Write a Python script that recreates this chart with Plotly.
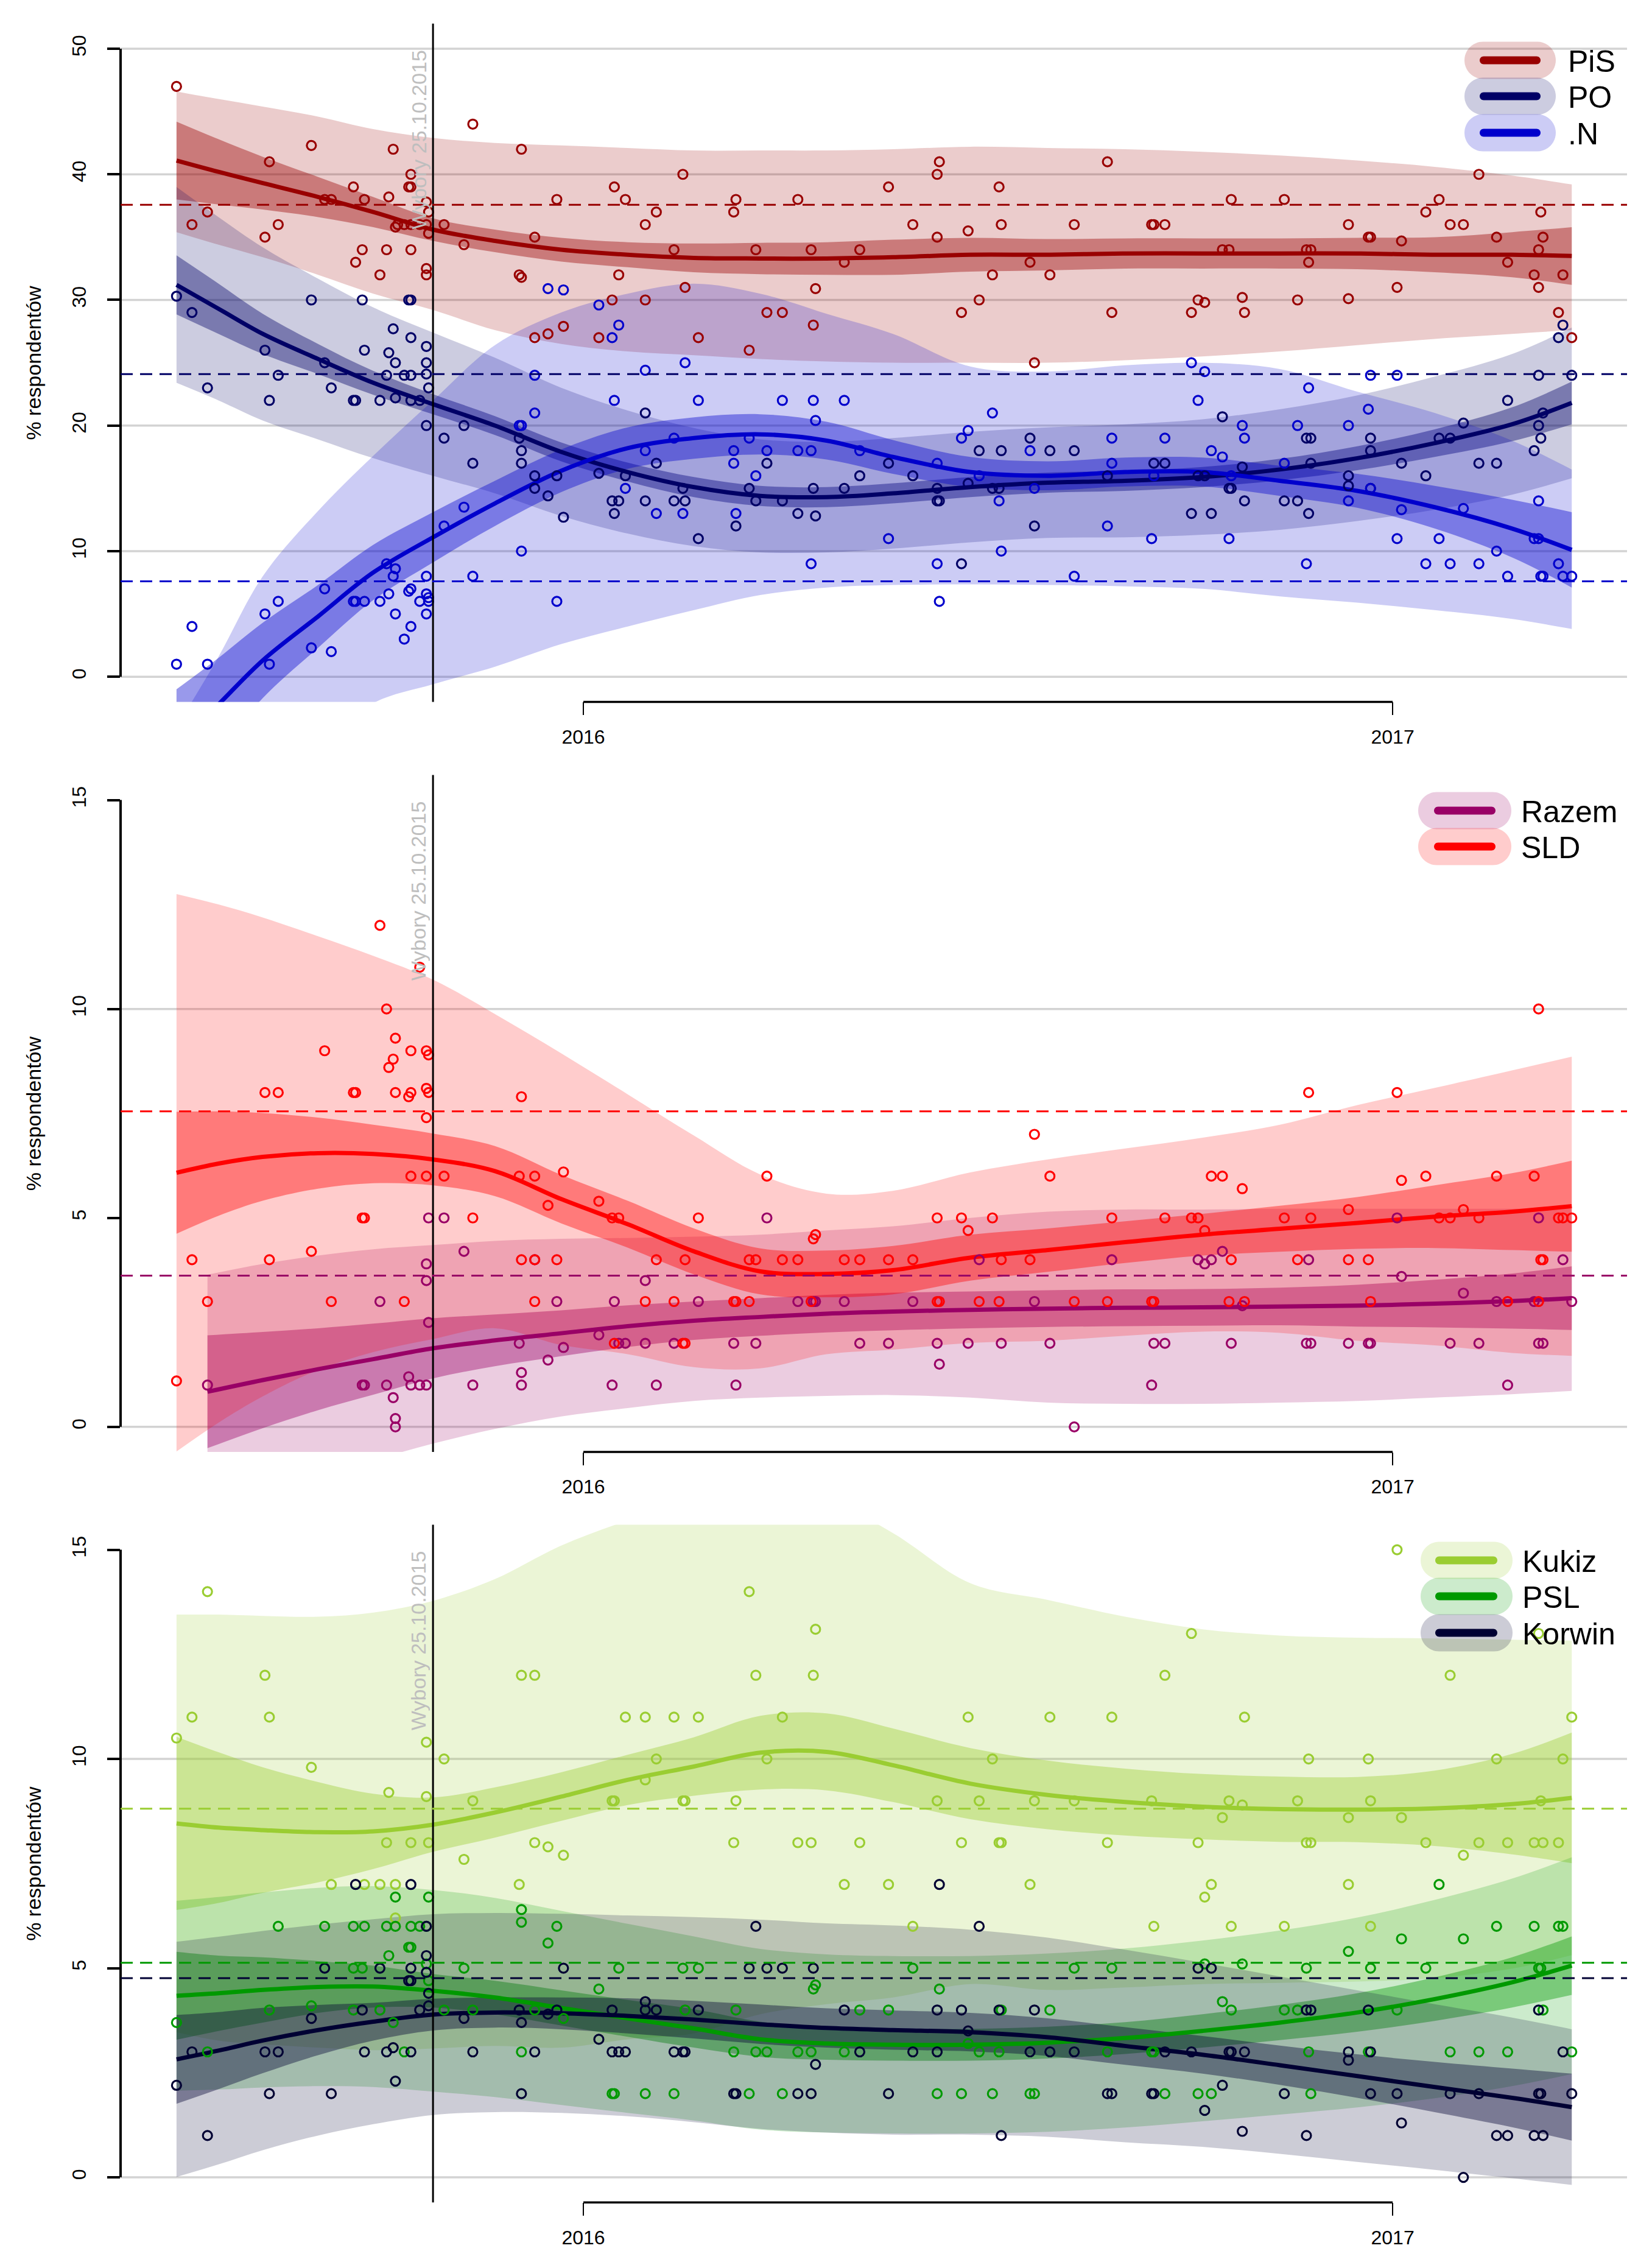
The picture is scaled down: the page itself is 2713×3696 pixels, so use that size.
import pandas as pd
import plotly.graph_objects as go

W, H = 2713, 3696
BASE = pd.Timestamp("2016-01-01")
FONT = "Liberation Sans, Arial, Helvetica, sans-serif"

# ---------------- poll points: (days since 2016-01-01, percent) ----------------
PIS = [(-184,47),(-177,36),(-170,37),(-144,35),(-142,41),(-138,36),(-123,42.3),(-117,38),(-114,38),(-104,39),
       (-103,33),(-100,34),(-99,38),(-92,32),(-89,34),(-88,38.2),(-86,42),(-85,35.8),(-84,36),(-81,36),
       (-79,39),(-78,39),(-78,40),(-78,34),(-78,36),(-74,36),(-71,37.8),(-70,37),(-71,36),(-70,35.3),
       (-71,32.5),(-71,32),(-63,36),(-54,34.4),(-50,44),(-29,32),(-28,31.8),(-28,42),(-22,35),(-22,27),
       (-16,27.3),(-12,38),(-9,27.9),(7,27),(13,30),(14,39),(16,32),(19,38),(28,36),(28,30),(33,37),
       (41,34),(45,40),(46,31),(52,27),(68,37),(69,38),(75,26),(78,34),(83,29),(90,29),(97,38),(103,34),
       (104,28),(105,30.9),(118,33),(125,34),
       (138,39),(149,36),(160,40),(161,41),(160,35),(174,35.5),(171,29),(179,30),(185,32),(188,39),(189,36),
       (202,33),(204,25),(211,32),(222,36),(237,41),(239,29),(257,36),(258,36),(263,36),(275,29),(278,30),
       (281,29.8),(289,34),(292,34),(293,38),(298,30.2),(299,29),(317,38),(323,30),(327,34),(329,34),(328,33),
       (346,36),(346,30.1),(355,35),(356,35),(368,31),(370,34.7),(381,37),(387,38),(392,36),(398,36),(405,40),
       (413,35),(418,33),(430,32),(432,34),(433,37),(434,35),(432,31),(441,29),(443,32),(447,27)]
PO = [(-184,30.3),(-177,29),(-170,23),(-144,26),(-142,22),(-138,24),(-123,30),(-117,25),(-114,23),(-104,22),
      (-103,22),(-100,30),(-99,26),(-92,22),(-89,24),(-88,25.8),(-86,27.7),(-85,25),(-85,22.2),(-81,24),
      (-79,30),(-78,30),(-78,27),(-78,24),(-78,22),(-74,22),(-71,26.3),(-71,25),(-71,24.1),(-70,23),(-71,20),
      (-63,19),(-54,20),(-50,17),(-29,19),(-28,18),(-28,17),(-22,16),(-22,15),(-16,14.4),(-12,16),(-9,12.7),
      (7,16.2),(13,14),(16,14),(14,13),(19,16),(28,21),(28,14),(33,17),(41,14),(45,15),(46,14),(52,11),
      (69,12),(75,15),(78,14),(83,17),(90,14),(97,13),(104,15),(105,12.8),(118,15),(125,16),
      (138,17),(149,16),(160,15),(160,14),(161,14),(171,9),(174,15.4),(179,18),(185,15),(188,15),(189,18),
      (202,19),(204,12),(211,18),(222,18),(237,16),(258,17),(263,17),(275,13),(278,16),(281,16),(284,13),
      (289,20.7),(292,15),(293,15),(299,14),(298,16.7),(317,14),(323,14),(327,19),(329,19),(328,13),(329,17),
      (346,16),(346,15.2),(356,19),(356,18),(356,15),(370,17),(381,16),(387,19),(392,19),(398,20.2),(405,17),
      (413,17),(418,22),(430,18),(432,20),(433,19),(434,21),(432,24),(443,28),(441,27),(447,24)]
NOWO = [(-184,1),(-177,4),(-170,1),(-144,5),(-142,1),(-138,6),(-123,2.3),(-117,7),(-114,2),(-104,6),(-103,6),
        (-99,6),(-92,6),(-89,9),(-88,6.6),(-86,8),(-85,8.6),(-85,5),(-81,3),(-79,6.8),(-78,7),(-78,4),(-74,6),
        (-71,8),(-71,6.6),(-70,6.3),(-70,6),(-71,5),(-63,12),(-54,13.5),(-50,8),(-29,20),(-28,20),(-28,10),
        (-22,24),(-22,21),(-16,30.9),(-9,30.8),(-12,6),(7,29.6),(13,27),(16,28),(14,22),(19,15),(28,24.4),
        (28,18),(33,13),(41,19),(45,13),(46,25),(52,22),(68,18),(68,17),(69,13),(75,19),(78,16),(83,18),
        (90,22),(97,18),(103,18),(104,22),(105,20.4),(103,9),(118,22),(125,18),
        (138,11),(160,17),(160,9),(161,6),(171,19),(174,19.6),(179,16),(185,21),(189,10),(188,14),(202,18),
        (204,15),(222,8),(237,12),(239,19),(239,17),(257,11),(258,16),(263,19),(275,25),(278,22),(281,24.3),
        (284,18),(289,17.5),(292,11),(293,16),(298,20),(299,19),(317,17),(323,20),(327,9),(328,23),(346,20),
        (346,14),(356,24),(355,21.3),(356,15),(368,24),(368,11),(370,13.3),(381,9),(387,11),(392,9),(398,13.4),
        (405,9),(413,10),(418,8),(430,11),(432,11),(432,14),(433,8),(434,8),(441,9),(443,8),(447,8)]
SLD = [(-184,1.1),(-177,4),(-170,3),(-144,8),(-142,4),(-138,8),(-123,4.2),(-117,9),(-114,3),(-104,8),(-103,8),
       (-100,5),(-99,5),(-92,12),(-89,10),(-88,8.6),(-86,8.8),(-85,9.3),(-85,8),(-81,3),(-79,7.9),(-78,8),
       (-78,9),(-78,6),(-74,11),(-71,9),(-70,8.9),(-71,8.1),(-70,8),(-71,7.4),(-71,6),(-63,6),(-50,5),
       (-28,7.9),(-29,6),(-22,6),(-9,6.1),(-28,4),(-22,4),(-22,3),(-16,5.3),(-12,4),(7,5.4),(13,5),(16,5),
       (14,2),(28,3),(33,4),(41,3),(45,2),(46,2),(46,4),(52,5),(68,3),(69,3),(75,3),(75,4),(78,4),(83,6),
       (90,4),(97,4),(103,3),(104,4.5),(105,4.6),(118,4),(125,4),
       (138,4),(149,4),(160,5),(160,3),(161,3),(171,5),(174,4.7),(179,3),(185,5),(188,3),(189,4),(202,4),
       (204,7),(211,6),(222,3),(237,3),(239,5),(257,3),(258,3),(263,5),(275,5),(278,5),(281,4.7),(284,6),
       (289,6),(293,4),(292,3),(298,5.7),(299,3),(317,5),(323,4),(328,8),(329,5),(346,5.2),(346,4),(355,4),
       (356,3),(368,8),(370,5.9),(381,6),(387,5),(392,5),(398,5.2),(405,5),(413,6),(418,3),(430,6),(432,10),
       (432,3),(433,4),(434,4),(441,5),(443,5),(447,5)]
RAZEM = [(-170,1),(-100,1),(-99,1),(-92,3),(-89,1),(-86,0.7),(-85,0.2),(-85,0),(-79,1.2),(-78,1),(-74,1),
         (-71,1),(-70,5),(-71,3.9),(-71,3.5),(-70,2.5),(-63,5),(-54,4.2),(-50,1),(-29,2),(-28,1.3),(-28,1),
         (-22,4),(-16,1.6),(-12,3),(-9,1.9),(7,2.2),(13,1),(14,3),(16,2),(19,2),(28,3.5),(28,2),(33,1),(41,2),
         (52,3),(68,2),(69,1),(78,2),(83,5),(97,3),(104,3),(105,3),(118,3),(125,2),
         (138,2),(149,3),(160,2),(161,1.5),(174,2),(179,4),(189,2),(204,3),(211,2),(222,0),(239,4),(257,1),
         (258,2),(263,2),(278,4),(281,3.9),(284,4),(289,4.2),(293,2),(298,2.9),(327,2),(329,2),(328,4),(346,2),
         (355,2),(356,2),(368,5),(370,3.6),(392,2),(398,3.2),(405,2),(413,3),(418,1),(430,3),(432,5),(432,2),
         (434,2),(443,4),(447,3)]
KUKIZ = [(-184,10.5),(-177,11),(-170,14),(-144,12),(-142,11),(-123,9.8),(-114,7),(-99,7),(-92,7),(-89,8),
         (-88,9.2),(-85,7),(-85,6.2),(-78,8),(-71,10.4),(-71,9.1),(-70,8),(-63,10),(-54,7.6),(-50,9),(-29,7),
         (-28,12),(-22,12),(-22,8),(-16,7.9),(-9,7.7),(13,9),(14,9),(19,11),(28,11),(28,9.5),(33,10),(41,11),
         (45,9),(46,9),(52,11),(68,8),(69,9),(75,14),(78,12),(83,10),(90,11),(97,8),(103,8),(104,12),(105,13.1),
         (118,7),(125,8),
         (138,7),(149,6),(160,9),(171,8),(174,11),(179,9),(185,10),(188,8),(189,8),(202,7),(204,9),(211,11),
         (222,9),(237,8),(239,11),(257,9),(258,6),(263,12),(275,13),(278,8),(281,6.7),(284,7),(289,8.6),(292,9),
         (293,6),(298,8.9),(299,11),(317,6),(323,9),(327,8),(329,8),(328,10),(346,8.6),(346,7),(355,10),(356,9),
         (356,6),(368,15),(370,8.6),(381,8),(392,12),(398,7.7),(405,8),(413,10),(418,8),(430,8),(434,8),(432,13),
         (433,9),(441,8),(443,10),(447,11)]
PSL = [(-184,3.7),(-170,3),(-142,4),(-138,6),(-123,4.1),(-117,6),(-104,6),(-99,6),(-104,5),(-100,5),(-104,4),
       (-92,4),(-89,6),(-88,5.3),(-86,3.7),(-85,6.7),(-85,6),(-81,3),(-79,5.5),(-78,5.5),(-78,6),(-74,6),(-71,6),
       (-71,5.1),(-70,6.7),(-70,4.7),(-63,4),(-54,5),(-50,4),(-28,6.4),(-28,6.1),(-28,3),(-22,4),(-16,5.6),
       (-12,6),(-9,3.8),(7,4.5),(13,2),(14,2),(16,5),(28,2),(41,2),(45,5),(52,5),(46,4),(68,3),(69,4),(75,2),
       (78,3),(83,3),(90,2),(97,3),(103,3),(104,4.5),(105,4.6),(118,3),(125,4),
       (138,4),(149,5),(161,4.5),(160,2),(171,2),(174,3.2),(179,3),(188,3),(185,2),(189,4),(202,2),(204,2),
       (211,4),(222,5),(237,3),(239,5),(257,3),(258,3),(263,2),(278,2),(284,2),(281,5.1),(289,4.2),(293,4),
       (298,5.1),(317,4),(323,4),(327,5),(328,3),(329,2),(346,5.4),(355,3),(356,5),(368,4),(370,5.7),(381,5),
       (387,7),(392,3),(405,3),(418,3),(398,5.7),(413,6),(430,6),(432,5),(433,5),(434,4),(441,6),(443,6),(447,3)]
KORWIN = [(-184,2.2),(-177,3),(-170,1),(-144,3),(-138,3),(-142,2),(-123,3.8),(-117,5),(-114,2),(-103,7),
          (-100,4),(-99,3),(-92,5),(-89,3),(-86,3.1),(-85,2.3),(-78,7),(-79,4.7),(-78,4.7),(-78,5),(-78,3),
          (-74,4),(-71,5.3),(-71,4.9),(-70,4.4),(-70,4.1),(-71,6),(-54,3.8),(-50,3),(-29,4),(-28,3.7),(-28,2),
          (-22,3),(-16,3.9),(-12,4),(-9,5),(7,3.3),(13,4),(13,3),(16,3),(19,3),(28,4.2),(28,4),(33,4),(41,3),
          (45,3),(46,3),(52,4),(68,2),(69,2),(75,5),(78,6),(83,5),(90,5),(97,2),(103,2),(104,5),(105,2.7),
          (118,4),(125,3),
          (138,2),(149,3),(160,3),(160,4),(171,4),(161,7),(174,3.5),(179,6),(188,4),(189,1),(202,3),(211,3),
          (222,3),(204,4),(237,2),(239,2),(257,2),(258,2),(263,3),(275,3),(278,5),(284,5),(281,1.6),(289,2.2),
          (292,3),(293,3),(299,3),(298,1.1),(317,2),(327,4),(329,4),(327,1),(346,3),(346,2.8),(355,4),(356,3),
          (356,2),(368,2),(370,1.3),(392,2),(398,0),(405,2),(413,1),(418,1),(430,1),(434,1),(432,4),(432,2),
          (433,2),(443,3),(447,2)]

# ---------------- smoothed trends ----------------
G = [-184, -165, -145, -120, -95, -68, -40, -10, 20, 50, 80, 110, 140, 175, 210, 245, 280, 315, 350, 385, 420, 447]
GR = [-170, -145, -120, -95, -68, -40, -10, 20, 50, 80, 110, 140, 175, 210, 245, 280, 315, 350, 385, 420, 447]

PIS_FIT = [41.1, 40.2, 39.3, 38.2, 37.0, 35.6, 34.7, 34.0, 33.6, 33.35, 33.3, 33.3, 33.4, 33.6, 33.6, 33.7, 33.7, 33.7, 33.7, 33.6, 33.6, 33.5]
PIS_CI_LO = [38.0, 37.6, 37.2, 36.6, 35.8, 34.7, 33.8, 33.05, 32.6, 32.2, 32.05, 32.0, 32.0, 32.25, 32.35, 32.5, 32.5, 32.5, 32.45, 32.2, 31.8, 31.2]
PIS_CI_HI = [44.2, 42.8, 41.4, 39.8, 38.2, 36.5, 35.6, 34.95, 34.6, 34.5, 34.55, 34.6, 34.8, 34.95, 34.85, 34.9, 34.9, 34.9, 34.95, 35.0, 35.4, 35.8]
PIS_PI_LO = [35.4, 34.4, 33.4, 32.0, 30.5, 29.2, 27.6, 26.5, 25.9, 25.6, 25.3, 25.1, 25.0, 25.0, 25.0, 25.2, 25.5, 25.9, 26.4, 26.9, 27.3, 27.6]
PIS_PI_HI = [46.6, 46.0, 45.4, 44.6, 43.6, 42.9, 42.5, 42.3, 42.1, 41.9, 41.9, 41.9, 42.0, 42.2, 42.1, 42.0, 41.8, 41.5, 41.1, 40.6, 39.9, 39.2]

PO_FIT = [31.2, 29.3, 27.3, 25.3, 23.4, 21.7, 20.0, 17.9, 16.3, 15.1, 14.4, 14.3, 14.6, 15.1, 15.45, 15.6, 15.9, 16.5, 17.4, 18.6, 20.1, 21.8]
PO_CI_LO = [28.85, 27.3, 25.7, 24.1, 22.45, 20.9, 19.25, 17.15, 15.55, 14.3, 13.6, 13.5, 13.8, 14.3, 14.65, 14.8, 15.1, 15.65, 16.45, 17.5, 18.75, 20.1]
PO_CI_HI = [33.55, 31.3, 28.9, 26.5, 24.35, 22.5, 20.75, 18.65, 17.05, 15.9, 15.2, 15.1, 15.4, 15.9, 16.25, 16.4, 16.7, 17.35, 18.35, 19.7, 21.45, 23.5]
PO_PI_LO = [23.4, 22.0, 20.4, 18.9, 17.4, 16.0, 14.6, 12.8, 11.4, 10.4, 9.9, 9.9, 10.2, 10.7, 11.05, 11.1, 11.3, 11.7, 12.4, 13.3, 14.5, 15.8]
PO_PI_HI = [39.0, 36.6, 34.2, 31.7, 29.4, 27.4, 25.4, 23.0, 21.2, 19.8, 18.9, 18.7, 19.0, 19.5, 19.85, 20.1, 20.5, 21.3, 22.4, 23.9, 25.7, 27.8]

N_FIT = [-5.5, -2.2, 1.3, 4.8, 8.3, 11.1, 13.8, 16.4, 18.2, 19.0, 19.3, 18.8, 17.5, 16.3, 16.0, 16.3, 16.3, 15.6, 14.8, 13.5, 11.8, 10.1]
N_CI_LO = [-10.0, -5.9, -1.7, 2.3, 6.1, 9.1, 12.0, 14.7, 16.55, 17.35, 17.7, 17.3, 16.15, 15.1, 14.85, 15.15, 15.15, 14.4, 13.45, 11.8, 9.5, 7.1]
N_CI_HI = [-1.0, 1.5, 4.3, 7.3, 10.5, 13.1, 15.6, 18.1, 19.85, 20.65, 20.9, 20.3, 18.85, 17.5, 17.15, 17.45, 17.45, 16.8, 16.15, 15.2, 14.1, 13.1]
N_PI_LO = [-15.0, -12.0, -9.0, -5.5, -2.1, -0.6, 0.8, 2.6, 4.0, 5.3, 6.5, 7.1, 7.3, 7.35, 7.3, 7.2, 7.0, 6.4, 5.9, 5.3, 4.6, 3.8]
N_PI_HI = [-4.0, 1.6, 8.0, 13.2, 17.6, 22.0, 26.4, 29.0, 30.5, 31.3, 30.5, 28.9, 27.3, 24.7, 24.3, 24.8, 25.0, 24.5, 22.7, 21.0, 18.8, 16.5]

SLD_FIT = [6.08, 6.3, 6.46, 6.55, 6.53, 6.4, 6.12, 5.45, 4.85, 4.2, 3.72, 3.66, 3.75, 4.05, 4.23, 4.42, 4.6, 4.74, 4.88, 5.03, 5.15, 5.28]
SLD_CI_LO = [4.62, 5.05, 5.41, 5.7, 5.83, 5.78, 5.52, 4.87, 4.29, 3.65, 3.17, 3.1, 3.17, 3.5, 3.71, 3.92, 4.1, 4.19, 4.26, 4.28, 4.23, 4.19]
SLD_CI_HI = [7.54, 7.55, 7.51, 7.4, 7.23, 7.02, 6.72, 6.03, 5.41, 4.75, 4.27, 4.22, 4.33, 4.6, 4.75, 4.92, 5.1, 5.29, 5.5, 5.78, 6.07, 6.37]
SLD_PI_LO = [-0.59, 0.1, 0.73, 1.36, 1.79, 2.1, 2.36, 1.96, 1.74, 1.43, 1.4, 1.74, 1.85, 2.01, 2.06, 2.18, 2.28, 2.25, 2.06, 1.95, 1.77, 1.7]
SLD_PI_HI = [12.75, 12.5, 12.19, 11.74, 11.27, 10.7, 9.88, 8.94, 7.96, 6.97, 6.04, 5.58, 5.65, 6.09, 6.4, 6.66, 6.92, 7.23, 7.7, 8.11, 8.53, 8.86]

RAZEM_FIT = [0.84, 1.12, 1.38, 1.62, 1.88, 2.07, 2.24, 2.41, 2.54, 2.63, 2.71, 2.76, 2.8, 2.83, 2.85, 2.86, 2.88, 2.9, 2.95, 3.01, 3.08]
RAZEM_CI_LO = [-0.51, -0.03, 0.4, 0.77, 1.16, 1.45, 1.69, 1.91, 2.08, 2.18, 2.26, 2.31, 2.36, 2.39, 2.41, 2.42, 2.43, 2.4, 2.38, 2.35, 2.32]
RAZEM_CI_HI = [2.19, 2.27, 2.36, 2.47, 2.6, 2.69, 2.79, 2.91, 3.0, 3.08, 3.16, 3.21, 3.24, 3.27, 3.29, 3.3, 3.33, 3.4, 3.52, 3.67, 3.84]
RAZEM_PI_LO = [-2.0, -1.6, -1.2, -0.8, -0.4, -0.05, 0.25, 0.45, 0.62, 0.7, 0.74, 0.76, 0.7, 0.58, 0.55, 0.55, 0.58, 0.62, 0.7, 0.78, 0.86]
RAZEM_PI_HI = [3.64, 3.9, 4.1, 4.25, 4.35, 4.45, 4.5, 4.52, 4.55, 4.6, 4.7, 4.8, 5.0, 5.15, 5.2, 5.2, 5.22, 5.22, 5.22, 5.22, 5.22]

KUKIZ_FIT = [8.46, 8.36, 8.3, 8.25, 8.27, 8.43, 8.72, 9.1, 9.5, 9.82, 10.15, 10.17, 9.85, 9.41, 9.14, 8.97, 8.86, 8.8, 8.79, 8.82, 8.92, 9.07]
KUKIZ_CI_LO = [6.39, 6.56, 6.8, 7.05, 7.37, 7.78, 8.12, 8.52, 8.9, 9.12, 9.27, 9.25, 8.97, 8.56, 8.32, 8.17, 8.08, 8.02, 8.01, 7.92, 7.72, 7.51]
KUKIZ_CI_HI = [10.53, 10.16, 9.8, 9.45, 9.17, 9.08, 9.32, 9.68, 10.1, 10.52, 11.03, 11.09, 10.73, 10.26, 9.96, 9.77, 9.64, 9.58, 9.57, 9.72, 10.12, 10.63]
KUKIZ_PI_LO = [3.47, 3.27, 3.18, 3.1, 3.04, 3.08, 3.14, 3.1, 3.3, 3.44, 3.9, 4.14, 4.3, 4.62, 4.48, 4.54, 4.62, 4.65, 4.68, 4.76, 4.99, 5.31]
KUKIZ_PI_HI = [13.45, 13.45, 13.42, 13.4, 13.5, 13.78, 14.3, 15.1, 15.7, 16.2, 16.4, 16.2, 15.4, 14.2, 13.8, 13.4, 13.1, 12.95, 12.9, 12.88, 12.85, 12.83]

PSL_FIT = [4.34, 4.4, 4.48, 4.55, 4.56, 4.46, 4.3, 4.05, 3.8, 3.56, 3.3, 3.2, 3.17, 3.17, 3.22, 3.33, 3.5, 3.7, 3.94, 4.26, 4.66, 5.06]
PSL_CI_LO = [3.29, 3.5, 3.7, 3.93, 4.06, 4.06, 3.9, 3.63, 3.36, 3.1, 2.88, 2.81, 2.79, 2.79, 2.84, 2.95, 3.1, 3.28, 3.48, 3.74, 4.06, 4.36]
PSL_CI_HI = [5.39, 5.3, 5.26, 5.17, 5.06, 4.86, 4.7, 4.47, 4.24, 4.02, 3.72, 3.59, 3.55, 3.55, 3.6, 3.71, 3.9, 4.12, 4.4, 4.78, 5.26, 5.76]
PSL_PI_LO = [2.07, 2.1, 2.15, 2.18, 2.16, 2.05, 1.92, 1.73, 1.54, 1.36, 1.14, 1.07, 1.05, 1.05, 1.09, 1.19, 1.34, 1.5, 1.67, 1.89, 2.18, 2.47]
PSL_PI_HI = [6.61, 6.7, 6.81, 6.92, 6.96, 6.87, 6.68, 6.37, 6.06, 5.76, 5.46, 5.33, 5.29, 5.29, 5.35, 5.47, 5.66, 5.9, 6.21, 6.63, 7.14, 7.65]

KORWIN_FIT = [2.82, 3.03, 3.27, 3.52, 3.72, 3.89, 3.94, 3.92, 3.86, 3.77, 3.66, 3.57, 3.52, 3.47, 3.35, 3.14, 2.93, 2.68, 2.42, 2.16, 1.9, 1.68]
KORWIN_CI_LO = [1.76, 2.11, 2.49, 2.92, 3.27, 3.51, 3.58, 3.54, 3.44, 3.32, 3.19, 3.1, 3.05, 3.01, 2.9, 2.69, 2.48, 2.21, 1.9, 1.56, 1.2, 0.88]
KORWIN_CI_HI = [3.88, 3.95, 4.05, 4.12, 4.17, 4.27, 4.3, 4.3, 4.28, 4.22, 4.13, 4.04, 3.99, 3.93, 3.8, 3.59, 3.38, 3.15, 2.94, 2.76, 2.6, 2.48]
KORWIN_PI_LO = [0.01, 0.31, 0.65, 1.0, 1.27, 1.49, 1.56, 1.54, 1.46, 1.32, 1.16, 1.07, 1.02, 1.02, 0.97, 0.84, 0.73, 0.56, 0.37, 0.18, -0.02, -0.18]
KORWIN_PI_HI = [5.63, 5.75, 5.89, 6.04, 6.17, 6.29, 6.32, 6.3, 6.26, 6.22, 6.16, 6.07, 6.02, 5.92, 5.73, 5.44, 5.13, 4.8, 4.47, 4.14, 3.82, 3.54]

# 2015 election results (dashed reference lines)
RESULTS = {"PiS": 37.58, "PO": 24.09, ".N": 7.60, "Razem": 3.62, "SLD": 7.55, "Kukiz": 8.81, "PSL": 5.13, "Korwin": 4.76}
ELECTION_DAY = -68  # 25.10.2015
LABEL_2016, LABEL_2017 = "2016", "2017"

COLORS = {"PiS": (153, 0, 0), "PO": (0, 0, 102), ".N": (0, 0, 204), "Razem": (153, 0, 102), "SLD": (255, 0, 0),
          "Kukiz": (154, 205, 50), "PSL": (0, 153, 0), "Korwin": (0, 0, 51)}

PARTIES = {
    "PiS": (PIS, G, PIS_FIT, PIS_CI_LO, PIS_CI_HI, PIS_PI_LO, PIS_PI_HI),
    "PO": (PO, G, PO_FIT, PO_CI_LO, PO_CI_HI, PO_PI_LO, PO_PI_HI),
    ".N": (NOWO, G, N_FIT, N_CI_LO, N_CI_HI, N_PI_LO, N_PI_HI),
    "Razem": (RAZEM, GR, RAZEM_FIT, RAZEM_CI_LO, RAZEM_CI_HI, RAZEM_PI_LO, RAZEM_PI_HI),
    "SLD": (SLD, G, SLD_FIT, SLD_CI_LO, SLD_CI_HI, SLD_PI_LO, SLD_PI_HI),
    "Kukiz": (KUKIZ, G, KUKIZ_FIT, KUKIZ_CI_LO, KUKIZ_CI_HI, KUKIZ_PI_LO, KUKIZ_PI_HI),
    "PSL": (PSL, G, PSL_FIT, PSL_CI_LO, PSL_CI_HI, PSL_PI_LO, PSL_PI_HI),
    "Korwin": (KORWIN, G, KORWIN_FIT, KORWIN_CI_LO, KORWIN_CI_HI, KORWIN_PI_LO, KORWIN_PI_HI),
}

# panel layout (pixel positions of the plotting regions)
PANELS = [
    dict(parties=["PiS", "PO", ".N"], yr=[-2, 52], ticks=[0, 10, 20, 30, 40, 50], grid=[0, 10, 20, 30, 40, 50],
         ytop=38.8, ybot=1152.4, legend_rows=[99, 158, 218], pill=(2405, 2555), inner=(2430, 2530), text_x=2573),
    dict(parties=["Razem", "SLD"], yr=[-0.6, 15.6], ticks=[0, 5, 10, 15], grid=[0, 10],
         ytop=1272.4, ybot=2384.0, legend_rows=[1331, 1390], pill=(2329, 2482), inner=(2355, 2456), text_x=2496),
    dict(parties=["Kukiz", "PSL", "Korwin"], yr=[-0.6, 15.6], ticks=[0, 5, 10, 15], grid=[0, 10],
         ytop=2503.4, ybot=3616.3, legend_rows=[2562, 2621, 2681], pill=(2333, 2484), inner=(2357, 2459), text_x=2498),
]
X_LEFT, X_RIGHT = 198, 2672
X_RANGE_DAYS = (-209.3, 472.0)


def dates(days):
    return [BASE + pd.Timedelta(days=float(d)) for d in days]


def rgba(c, a):
    return f"rgba({c[0]},{c[1]},{c[2]},{a})"


def px(x):
    return x / W


def py(y):
    return 1 - y / H


def pill(x1, x2, cy, r):
    a, b, k = x1 + r, x2 - r, 0.5523 * r
    return (f"M {px(a)},{py(cy - r)} L {px(b)},{py(cy - r)} "
            f"C {px(b + k)},{py(cy - r)} {px(x2)},{py(cy - k)} {px(x2)},{py(cy)} "
            f"C {px(x2)},{py(cy + k)} {px(b + k)},{py(cy + r)} {px(b)},{py(cy + r)} "
            f"L {px(a)},{py(cy + r)} "
            f"C {px(a - k)},{py(cy + r)} {px(x1)},{py(cy + k)} {px(x1)},{py(cy)} "
            f"C {px(x1)},{py(cy - k)} {px(a - k)},{py(cy - r)} {px(a)},{py(cy - r)} Z")


fig = go.Figure()
shapes, annotations = [], []
layout_axes = {}
xr = [str(d) for d in dates(X_RANGE_DAYS)]
elec = dates([ELECTION_DAY])[0]

for i, P in enumerate(PANELS):
    n = i + 1
    xa, ya = ("x" if n == 1 else f"x{n}"), ("y" if n == 1 else f"y{n}")
    xkey, ykey = ("xaxis" if n == 1 else f"xaxis{n}"), ("yaxis" if n == 1 else f"yaxis{n}")

    # bands
    for p in P["parties"]:
        pts, grid, fit, cilo, cihi, pilo, pihi = PARTIES[p]
        c = COLORS[p]
        gx = dates(grid)
        for lo, hi, a in ((pilo, pihi, 0.2), (cilo, cihi, 0.4)):
            fig.add_trace(go.Scatter(x=gx, y=lo, xaxis=xa, yaxis=ya, mode="lines", line=dict(width=0, shape="spline"),
                                     hoverinfo="skip", showlegend=False))
            fig.add_trace(go.Scatter(x=gx, y=hi, xaxis=xa, yaxis=ya, mode="lines", line=dict(width=0, shape="spline"),
                                     fill="tonexty", fillcolor=rgba(c, a), hoverinfo="skip", showlegend=False))
    # trend lines
    for p in P["parties"]:
        pts, grid, fit, *_ = PARTIES[p]
        fig.add_trace(go.Scatter(x=dates(grid), y=fit, xaxis=xa, yaxis=ya, mode="lines",
                                 line=dict(width=7, color=rgba(COLORS[p], 1), shape="spline"), showlegend=False))
    # poll points
    for p in P["parties"]:
        pts = PARTIES[p][0]
        fig.add_trace(go.Scatter(x=dates([d for d, v in pts]), y=[v for d, v in pts], xaxis=xa, yaxis=ya,
                                 mode="markers", showlegend=False,
                                 marker=dict(symbol="circle-open", size=15, color=rgba(COLORS[p], 1),
                                             line=dict(width=3.2))))

    dom_y = [py(P["ybot"]), py(P["ytop"])]
    layout_axes[xkey] = dict(domain=[px(X_LEFT), px(X_RIGHT)], anchor=ya, type="date", range=xr,
                             showgrid=False, zeroline=False, showline=False,
                             tickvals=[str(BASE), str(BASE + pd.DateOffset(years=1))],
                             ticktext=[LABEL_2016, LABEL_2017], ticks="outside", ticklen=21, tickwidth=2,
                             tickcolor="black", tickfont=dict(size=32, color="black", family=FONT),
                             ticklabelstandoff=8)
    layout_axes[ykey] = dict(domain=dom_y, anchor=xa, range=P["yr"], showgrid=False, zeroline=False,
                             showline=False, tickvals=P["ticks"], ticks="outside", ticklen=21, tickwidth=4,
                             tickcolor="black", tickangle=-90, ticklabelstandoff=22,
                             tickfont=dict(size=32, color="black", family=FONT))

    # gridlines
    for gv in P["grid"]:
        shapes.append(dict(type="line", xref=f"{xa} domain", x0=0, x1=1, yref=ya, y0=gv, y1=gv,
                           line=dict(color="#D3D3D3", width=3.5), layer="below"))
    # axes lines (R style)
    shapes.append(dict(type="line", xref=f"{xa} domain", x0=0, x1=0, yref=ya, y0=P["ticks"][0], y1=P["ticks"][-1],
                       line=dict(color="black", width=4), layer="above"))
    shapes.append(dict(type="line", xref=xa, x0=str(BASE), x1=str(BASE + pd.DateOffset(years=1)),
                       yref=f"{ya} domain", y0=0, y1=0, line=dict(color="black", width=3.5), layer="above"))
    # election day line
    shapes.append(dict(type="line", xref=xa, x0=str(elec), x1=str(elec), yref=f"{ya} domain", y0=0, y1=1,
                       line=dict(color="black", width=3), layer="above"))
    # result lines
    for p in P["parties"]:
        shapes.append(dict(type="line", xref=f"{xa} domain", x0=0, x1=1, yref=ya, y0=RESULTS[p], y1=RESULTS[p],
                           line=dict(color=rgba(COLORS[p], 1), width=3, dash="20px,12px"), layer="above"))
    annotations.append(dict(text="Wybory 25.10.2015", xref=xa, yref=ya, x=str(elec), y=P["ticks"][-1],
                            xanchor="center", yanchor="top", xshift=-24, textangle=-90, showarrow=False,
                            font=dict(size=34, color="#BEBEBE", family=FONT)))
    annotations.append(dict(text="% respondentów", xref="paper", yref="paper", x=px(55),
                            y=(dom_y[0] + dom_y[1]) / 2, xanchor="center", yanchor="middle", textangle=-90,
                            showarrow=False, font=dict(size=34, color="black", family=FONT)))
    # legend
    for p, cy in zip(P["parties"], P["legend_rows"]):
        c = COLORS[p]
        shapes.append(dict(type="path", xref="paper", yref="paper", path=pill(P["pill"][0], P["pill"][1], cy, 30.5),
                           fillcolor=rgba(c, 0.2), line=dict(width=0), layer="above"))
        shapes.append(dict(type="path", xref="paper", yref="paper", path=pill(P["inner"][0], P["inner"][1], cy, 6.5),
                           fillcolor=rgba(c, 1), line=dict(width=0), layer="above"))
        annotations.append(dict(text=p, xref="paper", yref="paper", x=px(P["text_x"]), y=py(cy + 2),
                                xanchor="left", yanchor="middle", showarrow=False,
                                font=dict(size=50, color="black", family=FONT)))

fig.update_layout(width=W, height=H, autosize=False, margin=dict(l=0, r=0, t=0, b=0),
                  paper_bgcolor="white", plot_bgcolor="white", showlegend=False,
                  font=dict(family=FONT, color="black"), shapes=shapes, annotations=annotations, **layout_axes)

fig.write_html("out.html")
